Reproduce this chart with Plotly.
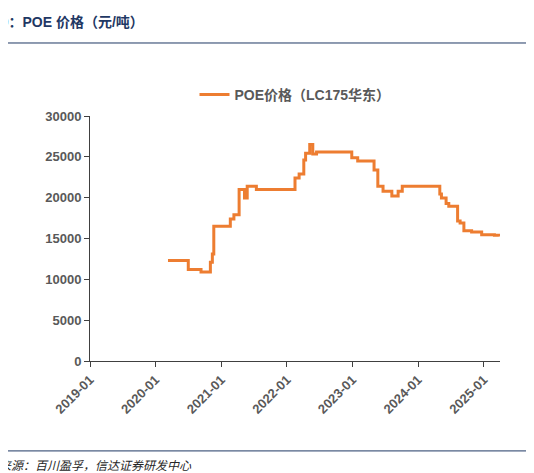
import plotly.graph_objects as go

dates = ["2020-03-10","2020-07-01","2020-09-10","2020-11-01","2020-11-12","2020-11-20",
         "2021-02-20","2021-03-12","2021-04-10","2021-05-10","2021-05-25","2021-07-15",
         "2022-02-15","2022-03-10","2022-04-05","2022-04-15","2022-05-08","2022-05-25",
         "2022-06-15","2022-12-28","2023-01-30","2023-05-01","2023-05-22","2023-06-20",
         "2023-08-08","2023-09-12","2023-10-05","2024-05-01","2024-05-10","2024-06-05",
         "2024-06-20","2024-08-08","2024-08-22","2024-09-12","2024-10-25","2024-12-20",
         "2025-03-01","2025-03-25"]
values = [12300,11200,10900,12100,13100,16500,
          17400,17900,21000,19950,21400,21000,
          22400,22900,24600,25450,26500,25350,
          25600,24900,24500,23400,21400,20800,
          20200,20800,21400,20450,19950,19300,
          18950,17150,16900,15950,15800,15450,
          15400,15250]
series_name = "<b>POE价格（LC175华东）</b>"
ytick_vals = [0,5000,10000,15000,20000,25000,30000]
ytick_text = ["<b>%d</b>" % v for v in ytick_vals]
xtick_vals = ["2019-01-01","2020-01-01","2021-01-01","2022-01-01","2023-01-01","2024-01-01","2025-01-01"]
xtick_text = ["<b>%s</b>" % t for t in ["2019-01","2020-01","2021-01","2022-01","2023-01","2024-01","2025-01"]]

font = "Liberation Sans, Arial, Noto Sans CJK SC"
fig = go.Figure(go.Scatter(x=dates, y=values, mode="lines", line_shape="hv",
                           line=dict(color="#ED7D31", width=3), name=series_name))
fig.update_layout(
    width=534, height=473, margin=dict(l=82, r=42, t=108, b=120, autoexpand=False),
    plot_bgcolor="white", paper_bgcolor="white",
    font=dict(family=font, color="#595959", size=13),
    showlegend=True,
    legend=dict(orientation="h", x=0.5, xanchor="center", y=1.086, yanchor="middle",
                font=dict(size=14, color="#595959", family=font)),
    xaxis=dict(range=["2019-01-01","2025-04-01"], tickvals=xtick_vals, ticktext=xtick_text,
               tickangle=-45, showgrid=False, showline=True, linecolor="#404040", linewidth=1,
               ticks="outside", ticklen=5, tickcolor="#404040", automargin=False,
               tickfont=dict(size=13, color="#595959")),
    yaxis=dict(range=[0,30000], tickvals=ytick_vals, ticktext=ytick_text, showgrid=False, showline=True,
               linecolor="#404040", linewidth=1, ticks="outside", ticklen=5, tickcolor="#404040",
               automargin=False, tickfont=dict(size=13, color="#595959")),
)
fig.add_annotation(text="<b>图 39：POE 价格（元/吨）</b>", xref="paper", yref="paper",
                   x=-0.285, y=1.384, xanchor="left", yanchor="middle", showarrow=False,
                   font=dict(size=14, color="#1F3864", family=font))
fig.add_shape(type="line", xref="paper", yref="paper", x0=-0.29, x1=1.1, y0=1.298, y1=1.298,
              line=dict(color="#1F3864", width=1))
fig.add_shape(type="line", xref="paper", yref="paper", x0=-0.29, x1=1.1, y0=-0.367, y1=-0.367,
              line=dict(color="#1F3864", width=1))
fig.add_annotation(text="<i>资料来源：百川盈孚，信达证券研发中心</i>", xref="paper", yref="paper",
                   x=-0.285, y=-0.43, xanchor="left", yanchor="middle", showarrow=False,
                   font=dict(size=12, color="#262626", family=font))
fig.write_html("out.html")
